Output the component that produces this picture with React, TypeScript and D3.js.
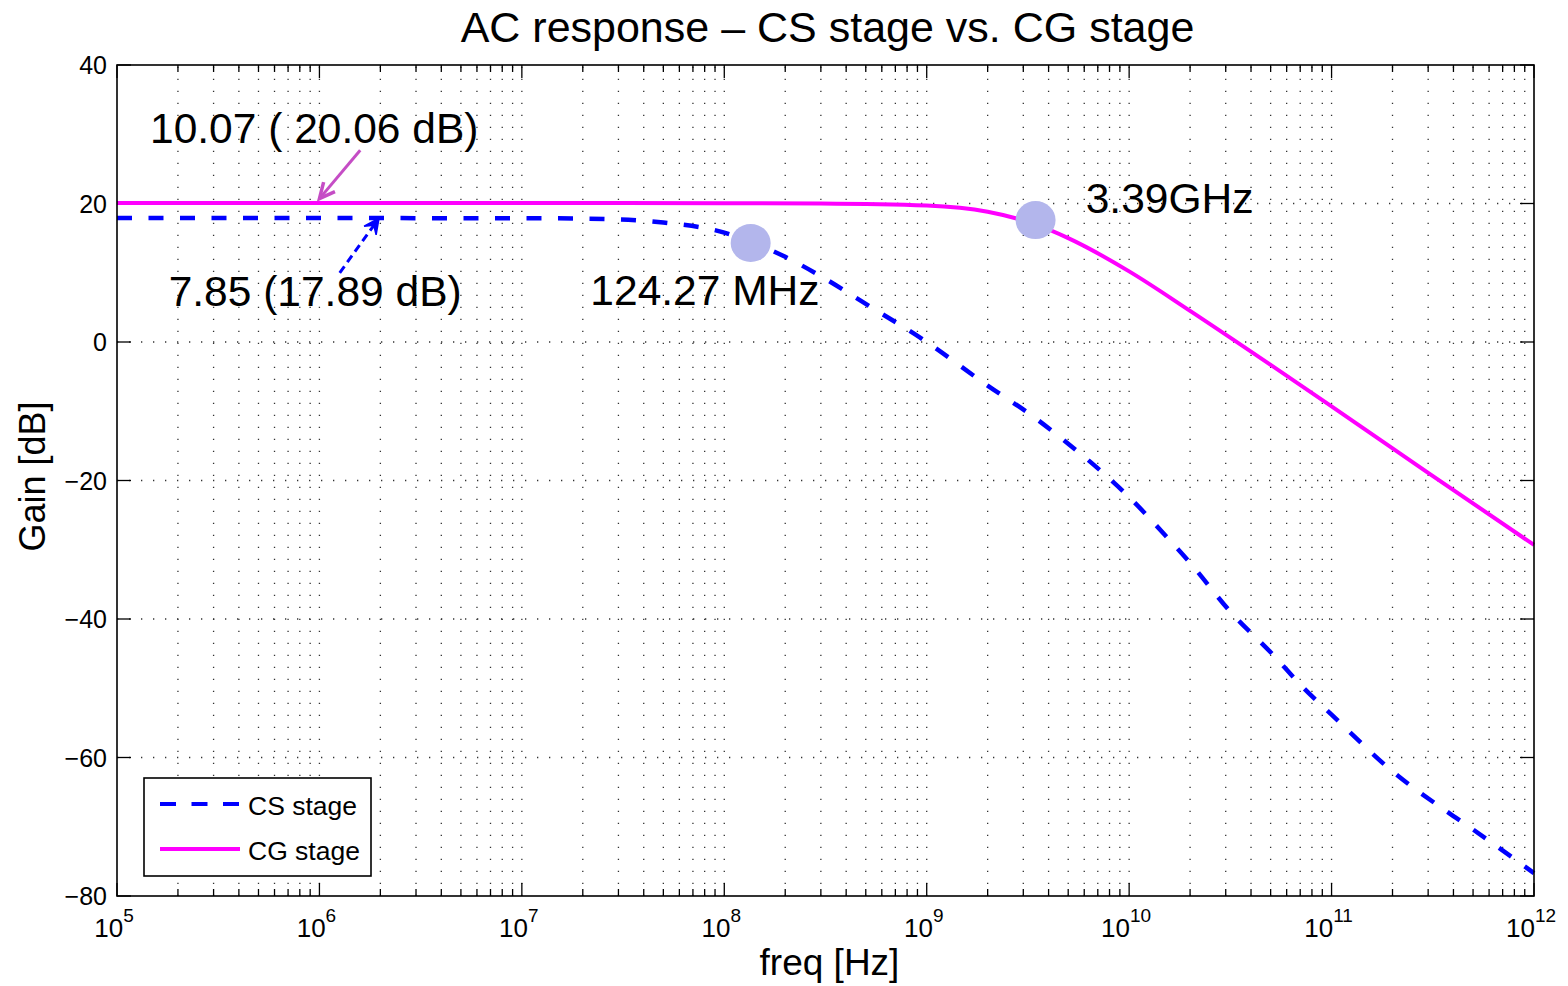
import React, { useEffect, useRef } from "react";
import * as d3 from "d3";

// CS stage (blue dashed)
const csFreq = [1e5, 1e6, 1e7, 3e7, 5e7, 1e8, 1.2427e8, 2e8, 3e8, 5e8, 1e9, 2e9, 3.37e9, 4.4e9, 7.83e9, 1e10, 1.55e10, 2e10, 3.24e10, 5e10, 7.3e10, 1e11, 2e11, 3.75e11, 5e11, 1e12];
const csGain = [17.89, 17.89, 17.88, 17.7, 17.25, 15.8, 14.89, 12.3, 9.5, 5.5, 0.0, -6.3, -10.8, -13.4, -19.5, -22.4, -28.3, -31.9, -39.3, -44.8, -50.0, -53.8, -62.0, -67.9, -70.4, -76.7];

// CG stage (magenta solid)
const cgFreq = [1e5, 1e7, 1e8, 3e8, 1e9, 2e9, 3.39e9, 5e9, 1e10, 2e10, 5e10, 1e11, 3e11, 1e12];
const cgGain = [20.06, 20.06, 20.05, 20.0, 19.7, 18.8, 17.05, 15.0, 10.2, 4.5, -3.3, -9.3, -18.9, -29.3];

// -3 dB markers
const markerFreq = [1.35e8, 3.45e9];
const markerGain = [14.3, 17.6];

const yTicks = [-80, -60, -40, -20, 0, 20, 40];
const seriesNames = ["CS stage", "CG stage"];

// annotation texts (data coords of text baseline start)
const noteText = ["10.07 ( 20.06 dB)", "7.85 (17.89 dB)", "124.27 MHz", "3.39GHz"];
const noteFreq = [1.456e5, 1.8e5, 2.18e7, 6.1e9];
const noteGain = [28.7, 5.2, 5.3, 18.7];

const FONT = "'Liberation Sans', Arial, Helvetica, sans-serif";

const App = () => {
	const ref = useRef<HTMLDivElement>(null);

	useEffect(() => {
		const width = 1568;
		const height = 986;
		const margin = { top: 65, right: 34, bottom: 90, left: 117 };

		document.body.style.margin = "0";
		d3.select(ref.current).selectAll("*").remove();
		const svg = d3
			.select(ref.current)
			.append("svg")
			.attr("width", width)
			.attr("height", height)
			.style("display", "block")
			.style("background", "#fff")
			.style("font-family", FONT);

		const x = d3
			.scaleLog()
			.domain([1e5, 1e12])
			.range([margin.left, width - margin.right]);

		const y = d3
			.scaleLinear()
			.domain([-80, 40])
			.range([height - margin.bottom, margin.top]);

		const x0 = margin.left;
		const x1 = width - margin.right;
		const y0 = height - margin.bottom;
		const y1 = margin.top;

		const allTicks = x.ticks();
		const isMajor = (d) => Math.abs(Math.log10(d) - Math.round(Math.log10(d))) < 1e-9;
		const majorX = allTicks.filter(isMajor);
		const minorX = allTicks.filter((d) => !isMajor(d));

		// grid
		const grid = svg.append("g").attr("stroke", "#333").attr("stroke-width", 1.3).attr("stroke-dasharray", "1.3,10.7");
		allTicks
			.filter((d) => d > 1e5 && d < 1e12)
			.forEach((d) => {
				grid.append("line").attr("x1", x(d)).attr("x2", x(d)).attr("y1", y0).attr("y2", y1);
			});
		yTicks
			.filter((d) => d > -80 && d < 40)
			.forEach((d) => {
				grid.append("line").attr("x1", x0).attr("x2", x1).attr("y1", y(d)).attr("y2", y(d));
			});

		// ticks
		const ticks = svg.append("g").attr("stroke", "#000").attr("stroke-width", 1.3);
		majorX.forEach((d) => {
			ticks.append("line").attr("x1", x(d)).attr("x2", x(d)).attr("y1", y0).attr("y2", y0 - 13);
			ticks.append("line").attr("x1", x(d)).attr("x2", x(d)).attr("y1", y1).attr("y2", y1 + 13);
		});
		minorX.forEach((d) => {
			ticks.append("line").attr("x1", x(d)).attr("x2", x(d)).attr("y1", y0).attr("y2", y0 - 7);
			ticks.append("line").attr("x1", x(d)).attr("x2", x(d)).attr("y1", y1).attr("y2", y1 + 7);
		});
		yTicks.forEach((d) => {
			ticks.append("line").attr("x1", x0).attr("x2", x0 + 14).attr("y1", y(d)).attr("y2", y(d));
			ticks.append("line").attr("x1", x1).attr("x2", x1 - 14).attr("y1", y(d)).attr("y2", y(d));
		});

		// tick labels
		yTicks.forEach((d) => {
			svg
				.append("text")
				.attr("x", x0 - 10)
				.attr("y", y(d))
				.attr("dy", "0.36em")
				.attr("text-anchor", "end")
				.attr("font-size", 25)
				.text(d < 0 ? "\u2212" + Math.abs(d) : String(d));
		});
		majorX.forEach((d) => {
			const t = svg
				.append("text")
				.attr("x", x(d) - 3)
				.attr("y", y0 + 41)
				.attr("text-anchor", "middle")
				.attr("font-size", 26);
			t.append("tspan").text("10");
			t.append("tspan").attr("dy", -15).attr("font-size", 19).text(String(Math.round(Math.log10(d))));
		});

		// curves
		const line = d3
			.line<number>()
			.x((d) => d[0])
			.y((d) => d[1])
			.curve(d3.curveMonotoneX);

		const cgPts = cgFreq.map((f, i) => [x(f), y(cgGain[i])]);
		const csPts = csFreq.map((f, i) => [x(f), y(csGain[i])]);

		svg
			.append("path")
			.datum(cgPts)
			.attr("fill", "none")
			.attr("stroke", "#ff00ff")
			.attr("stroke-width", 4)
			.attr("d", line);

		svg
			.append("path")
			.datum(csPts)
			.attr("fill", "none")
			.attr("stroke", "#0000ff")
			.attr("stroke-width", 4.5)
			.attr("stroke-dasharray", "15,16.5")
			.attr("d", line);

		// markers
		markerFreq.forEach((f, i) => {
			svg
				.append("ellipse")
				.attr("cx", x(f))
				.attr("cy", y(markerGain[i]))
				.attr("rx", 20)
				.attr("ry", 19)
				.attr("fill", "#b3b6ec");
		});

		// axes box
		svg
			.append("rect")
			.attr("x", x0)
			.attr("y", y1)
			.attr("width", x1 - x0)
			.attr("height", y0 - y1)
			.attr("fill", "none")
			.attr("stroke", "#000")
			.attr("stroke-width", 1.6);

		// arrows
		const drawArrow = (fx0, gy0, fx1, gy1, color, dashed, filled) => {
			const ax = x(fx0);
			const ay = y(gy0);
			const bx = x(fx1);
			const by = y(gy1);
			const ang = Math.atan2(by - ay, bx - ax);
			const len = 17;
			const spread = 0.45;
			const p1 = [bx - len * Math.cos(ang - spread), by - len * Math.sin(ang - spread)];
			const p2 = [bx - len * Math.cos(ang + spread), by - len * Math.sin(ang + spread)];
			svg
				.append("line")
				.attr("x1", ax)
				.attr("y1", ay)
				.attr("x2", bx - 4 * Math.cos(ang))
				.attr("y2", by - 4 * Math.sin(ang))
				.attr("stroke", color)
				.attr("stroke-width", 3)
				.attr("stroke-dasharray", dashed ? "8,5" : null);
			if (filled) {
				svg
					.append("path")
					.attr("d", `M${bx},${by}L${p1[0]},${p1[1]}L${bx - 9 * Math.cos(ang)},${by - 9 * Math.sin(ang)}L${p2[0]},${p2[1]}Z`)
					.attr("fill", color)
					.attr("stroke", color)
					.attr("stroke-width", 1.5);
			} else {
				svg
					.append("path")
					.attr("d", `M${p1[0]},${p1[1]}L${bx},${by}L${p2[0]},${p2[1]}`)
					.attr("fill", "none")
					.attr("stroke", color)
					.attr("stroke-width", 3.5);
			}
		};
		drawArrow(1.59e6, 27.7, 1.0e6, 20.7, "#c54dc5", false, false);
		drawArrow(1.26e6, 10.0, 1.97e6, 17.9, "#0000ff", true, true);

		// annotations
		noteText.forEach((t, i) => {
			svg
				.append("text")
				.attr("x", x(noteFreq[i]))
				.attr("y", y(noteGain[i]))
				.attr("font-size", 42.5)
				.text(t);
		});

		// legend
		const lg = svg.append("g");
		lg.append("rect")
			.attr("x", 144)
			.attr("y", 778)
			.attr("width", 227)
			.attr("height", 98)
			.attr("fill", "#fff")
			.attr("stroke", "#000")
			.attr("stroke-width", 1.6);
		const legendStyles = [
			{ color: "#0000ff", dash: "16,15.5" },
			{ color: "#ff00ff", dash: null },
		];
		seriesNames.forEach((name, i) => {
			const ly = 804 + i * 45;
			lg.append("line")
				.attr("x1", 160)
				.attr("x2", 240)
				.attr("y1", ly)
				.attr("y2", ly)
				.attr("stroke", legendStyles[i].color)
				.attr("stroke-width", 4)
				.attr("stroke-dasharray", legendStyles[i].dash);
			lg.append("text")
				.attr("x", 248)
				.attr("y", ly + 1)
				.attr("dy", "0.36em")
				.attr("font-size", 26.5)
				.text(name);
		});

		// title and axis labels
		svg
			.append("text")
			.attr("x", (x0 + x1) / 2 + 2)
			.attr("y", 42)
			.attr("text-anchor", "middle")
			.attr("font-size", 43)
			.text("AC response \u2013 CS stage vs. CG stage");

		svg
			.append("text")
			.attr("x", (x0 + x1) / 2 + 4)
			.attr("y", 975)
			.attr("text-anchor", "middle")
			.attr("font-size", 37)
			.text("freq [Hz]");

		svg
			.append("text")
			.attr("transform", `translate(45,${(y0 + y1) / 2 - 4}) rotate(-90)`)
			.attr("text-anchor", "middle")
			.attr("font-size", 36)
			.text("Gain [dB]");
	}, []);

	return <div ref={ref}></div>;
};

export default App;
